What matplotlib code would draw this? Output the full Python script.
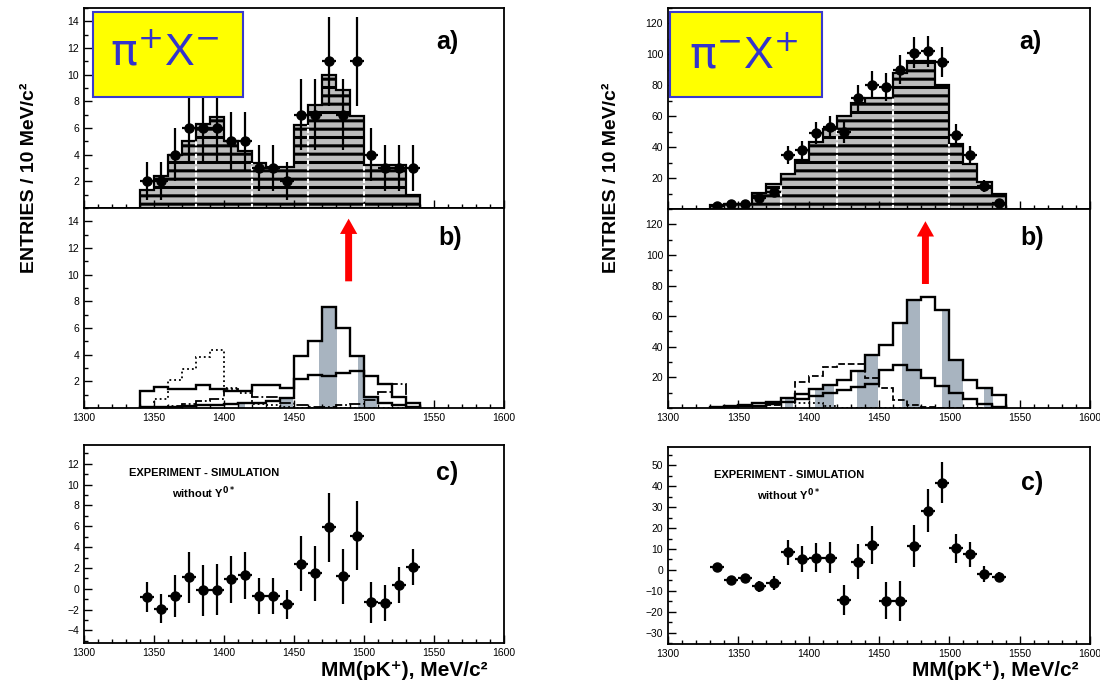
import numpy as np
import matplotlib.pyplot as plt
from matplotlib.patches import Rectangle
from matplotlib.ticker import MultipleLocator

plt.rcParams['font.family'] = ['Liberation Sans', 'DejaVu Sans']
plt.rcParams['hatch.linewidth'] = 2.2

# ---- pi+ X- : 10 MeV bins, 1340 - 1540
edges_l = np.arange(1340, 1541, 10)
data_l = [2, 2, 4, 6, 6, 6, 5, 5, 3, 3, 2, 7, 7, 11, 7, 11, 4, 3, 3, 3]
sim_l = [1.35, 2.4, 4.0, 5.0, 6.3, 6.8, 5.0, 4.3, 3.4, 3.1,
         3.1, 6.2, 7.7, 10.0, 8.85, 6.9, 3.2, 3.2, 3.2, 1.0]
peak_l = [0.1, 0.1, 0.1, 0.15, 0.2, 0.2, 0.3, 0.35, 0.4, 0.55,
          0.75, 3.9, 5.0, 7.55, 6.0, 3.9, 0.8, 0.4, 0.2, 0.1]
flat_l = [1.3, 1.55, 1.45, 1.4, 1.7, 1.4, 1.25, 1.25, 1.7, 1.7,
          1.5, 2.2, 2.45, 2.4, 2.6, 2.75, 2.4, 1.8, 0.8, 0.35]
dot_l = [0, 0.7, 2.1, 2.9, 3.8, 4.35, 1.5, 1.1, 0.3, 0.2,
         0.1, 0, 0, 0, 0, 0, 0, 0, 0, 0]
dashdot_l = [0, 0.05, 0.15, 0.3, 0.55, 0.7, 1.45, 1.3, 0.85, 0.85,
             0.4, 0.2, 0.1, 0.1, 0.2, 0.3, 0.6, 1.2, 1.8, 0.1]
shade_l = [(1411, 1415), (1440, 1449.5), (1467.5, 1480.5), (1496, 1509)]
diff_l = [-0.8, -1.9, -0.7, 1.1, -0.15, -0.1, 0.9, 1.3, -0.7, -0.7,
          -1.5, 2.4, 1.5, 5.9, 1.2, 5.1, -1.3, -1.4, 0.4, 2.1]
arrow_l = (1489, 9.5, 14.2)

# ---- pi- X+ : 10 MeV bins, 1330 - 1540
edges_r = np.arange(1330, 1541, 10)
data_r = [2, 3, 3, 7, 11, 35, 38, 49, 53, 50, 72,
          80, 79, 90, 101, 102, 95, 48, 35, 15, 4]
sim_r = [2.6, 3.2, 3.2, 10.6, 16, 22.8, 31.5, 43.5, 52, 60.3, 68.8,
         72, 72, 88, 96, 96, 80.5, 42, 29, 17.5, 10]
peak_r = [0.8, 1.3, 2.0, 3.0, 4.1, 6.5, 9.0, 12.5, 15.0, 18.2, 24.0,
          34.8, 40.9, 55.6, 70.6, 72.7, 64.1, 31.2, 18.2, 13.2, 8.4]
flat_r = [0.2, 0.5, 1.0, 1.5, 2.5, 4.0, 6.0, 8.0, 10.0, 12.0, 13.5,
          15.5, 24.5, 28.0, 24.5, 19.5, 14.5, 9.5, 6.0, 2.5, 0.8]
dash_r = [0.3, 0.6, 1.0, 1.5, 2.2, 3.7, 17.0, 21.0, 26.8, 29.0, 29.0,
          19.3, 12.8, 5.2, 2.0, 0.5, 0, 0, 0, 0, 0]
dot_r = [0.2, 0.5, 1.0, 1.5, 2.4, 4.1, 3.0, 3.0, 1.0, 0.3, 0,
         0, 0, 0, 0, 0, 0, 0, 0, 0, 0]
shade_r = [(1383, 1389), (1404.5, 1418), (1434, 1449.5), (1466, 1479),
           (1494.5, 1510), (1525, 1531)]
diff_r = [1.6, -4.8, -3.7, -7.7, -6.4, 8.5, 5.3, 5.9, 5.9, -14.4, 4.0,
          12.0, -14.7, -14.7, 11.6, 28.4, 41.8, 10.4, 7.5, -2.1, -3.2]
arrow_r = (1483, 81, 122)

walls = [1380, 1420, 1460, 1500]
GREY = '#a8b4c0'


def style(ax, ylim, yticks, yminor, xlabels):
    ax.set_xlim(1300, 1600)
    ax.set_ylim(*ylim)
    ax.set_yticks(yticks)
    ax.xaxis.set_major_locator(MultipleLocator(50))
    ax.xaxis.set_minor_locator(MultipleLocator(10))
    ax.yaxis.set_minor_locator(MultipleLocator(yminor))
    ax.tick_params(which='both', direction='in', top=False, right=False,
                   labelsize=7.5, width=1)
    ax.tick_params(which='major', length=6)
    ax.tick_params(which='minor', length=3)
    ax.tick_params(labelbottom=xlabels)
    for s in ax.spines.values():
        s.set_linewidth(1.3)


def points(ax, edges, vals, counts):
    centers = edges[:-1] + 5
    ax.errorbar(centers, vals, xerr=5, yerr=np.sqrt(counts), fmt='o',
                color='black', ms=6.5, elinewidth=1.6, capsize=0)


def panel_a(ax, edges, sim, data):
    ax.bar(edges[:-1], sim, width=10, align='edge', facecolor='#bdbdbd',
           edgecolor='black', hatch='--', linewidth=0)
    ax.stairs(sim, edges, color='black', lw=1.6)
    for w in walls:
        i = np.searchsorted(edges, w)
        top = min(sim[i - 1], sim[i])
        ax.plot([w, w], [0, top], color='white', lw=1.5, ls=(0, (2, 1)))
    points(ax, edges, data, data)


def panel_b(ax, edges, peak, flat, dotted, dashed, shade, dash_style, arrow):
    left = edges[:-1]
    for x0, x1 in shade:
        for i, e in enumerate(left):
            a, b = max(x0, e), min(x1, e + 10)
            if b > a:
                ax.bar(a, peak[i], width=b - a, align='edge', color=GREY,
                       linewidth=0)
    ax.stairs(dotted, edges, color='black', lw=1.3, ls=':')
    ax.stairs(dashed, edges, color='black', lw=1.3, ls=dash_style)
    ax.stairs(flat, edges, color='black', lw=1.7)
    ax.stairs(peak, edges, color='black', lw=1.7)
    x, tail, tip = arrow
    ax.annotate('', xy=(x, tip), xytext=(x, tail),
                arrowprops=dict(arrowstyle='simple,head_length=0.55,'
                                'head_width=0.62,tail_width=0.25',
                                color='red', lw=0, shrinkA=0, shrinkB=0,
                                mutation_scale=20))


def yellow_box(ax, box, text, tx, ty):
    ax.add_patch(Rectangle((box[0], box[1]), box[2], box[3],
                           transform=ax.transAxes, facecolor='#ffff00',
                           edgecolor='#3a3acc', lw=1.5, zorder=5))
    ax.text(tx, ty, text, transform=ax.transAxes, ha='center', va='center',
            fontsize=32, color='#3333cc', zorder=6)


def tag(ax, s, x, y):
    ax.text(x, y, s, transform=ax.transAxes, ha='center', va='center',
            fontsize=18, fontweight='bold')


def note(ax, x, y1, y2):
    ax.text(x, y1, 'EXPERIMENT - SIMULATION', transform=ax.transAxes,
            ha='center', va='center', fontsize=8, fontweight='bold')
    ax.text(x, y2, r'without Y$^{\mathbf{0*}}$', transform=ax.transAxes,
            ha='center', va='center', fontsize=8, fontweight='bold')


fig = plt.figure(figsize=(11, 6.98), dpi=100)

# left column
axa = fig.add_axes([0.0764, 0.702, 0.3818, 0.2865])
axb = fig.add_axes([0.0764, 0.4155, 0.3818, 0.2865])
axc = fig.add_axes([0.0764, 0.0788, 0.3818, 0.2837])

panel_a(axa, edges_l, sim_l, data_l)
style(axa, (0, 15), range(2, 15, 2), 1, False)
yellow_box(axa, (0.021, 0.5565, 0.357, 0.425),
           r'$\mathrm{\pi}^{+}$X$^{-}$', 0.193, 0.77)
tag(axa, 'a)', 0.864, 0.83)

panel_b(axb, edges_l, peak_l, flat_l, dot_l, dashdot_l, shade_l, '-.', arrow_l)
style(axb, (0, 15), range(2, 15, 2), 1, True)
tag(axb, 'b)', 0.871, 0.85)

points(axc, edges_l, diff_l, data_l)
style(axc, (-5.2, 13.8), range(-4, 13, 2), 1, True)
tag(axc, 'c)', 0.864, 0.859)
note(axc, 0.285, 0.859, 0.758)

# right column
axa2 = fig.add_axes([0.6073, 0.7006, 0.3836, 0.288])
axb2 = fig.add_axes([0.6073, 0.4155, 0.3836, 0.2851])
axc2 = fig.add_axes([0.6073, 0.0774, 0.3836, 0.2822])

panel_a(axa2, edges_r, sim_r, data_r)
style(axa2, (0, 130), range(20, 121, 20), 10, False)
yellow_box(axa2, (0.005, 0.557, 0.36, 0.423),
           r'$\mathrm{\pi}^{-}$X$^{+}$', 0.179, 0.756)
tag(axa2, 'a)', 0.858, 0.83)

panel_b(axb2, edges_r, peak_r, flat_r, dot_r, dash_r, shade_r, '--', arrow_r)
style(axb2, (0, 130), range(20, 121, 20), 10, True)
tag(axb2, 'b)', 0.862, 0.854)

points(axc2, edges_r, diff_r, data_r)
style(axc2, (-35.4, 58.8), range(-30, 51, 10), 5, True)
tag(axc2, 'c)', 0.862, 0.817)
note(axc2, 0.286, 0.858, 0.756)

# axis titles
for xl in (0.027, 0.556):
    fig.text(xl, 0.745, 'ENTRIES / 10 MeV/c²', rotation=90, ha='center',
             va='center', fontsize=14, fontweight='bold')
for xc in (0.368, 0.9045):
    fig.text(xc, 0.04, 'MM(pK⁺), MeV/c²', ha='center', va='center',
             fontsize=15, fontweight='bold')

fig.savefig('out.png', dpi=100)
